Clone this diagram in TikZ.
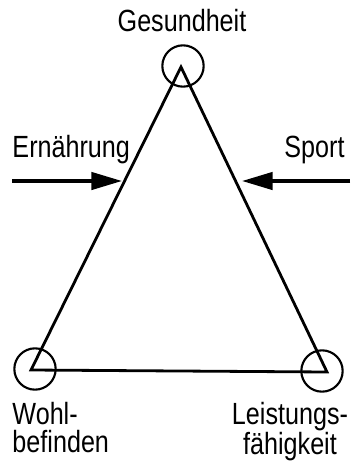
\documentclass[tikz,border=0pt]{standalone}
\usepackage{fontspec}
\setmainfont[FakeStretch=0.82]{Liberation Sans}
\usetikzlibrary{arrows.meta}

\tikzset{every picture/.style={line width=0.75pt}}
\tikzset{
  ring/.style={draw, circle, minimum size=31pt, inner sep=0pt, line width=1.6pt},
  lbl/.style={inner sep=0pt, font=\fontsize{23pt}{21pt}\selectfont},
  push/.style={-{Triangle[length=23pt,width=13pt]}, line width=2.6pt}
}

\begin{document}
\begin{tikzpicture}[x=0.75pt,y=0.75pt,yscale=-1,xscale=1]
\useasboundingbox (0,0) rectangle (353,461);

%Shape: Triangle
\coordinate (gv) at (181,67);
\coordinate (wv) at (31,370);
\coordinate (lv) at (327,372);
\draw [line width=2.1pt] (gv) -- (wv) -- (lv) -- cycle ;

%Shape: Circle
\node [ring] (gring) at (183,66) {};
\node [ring] (wring) at (35,369) {};
\node [ring] (lring) at (322,371) {};

%Arrows
\coordinate (etail) at (12,181);
\coordinate (ehead) at (122,181);
\coordinate (stail) at (350,181);
\coordinate (shead) at (242,181);
\draw [push] (etail) -- (ehead) ;
\draw [push] (stail) -- (shead) ;

% Text Node
\node [lbl, anchor=base] (gesund) at (182,31) {Gesundheit};
% Text Node
\node [lbl, anchor=base west] (ernaehr) at (12,157) {Ernährung};
% Text Node
\node [lbl, anchor=base east] (sport) at (345,157) {Sport};
% Text Node
\node [lbl, anchor=base west, align=left] (wohl) at (12,452) {Wohl-\\befinden};
% Text Node
\node [lbl, anchor=base, align=center] (leist) at (290,454) {Leistungs-\\fähigkeit};

\end{tikzpicture}
\end{document}
